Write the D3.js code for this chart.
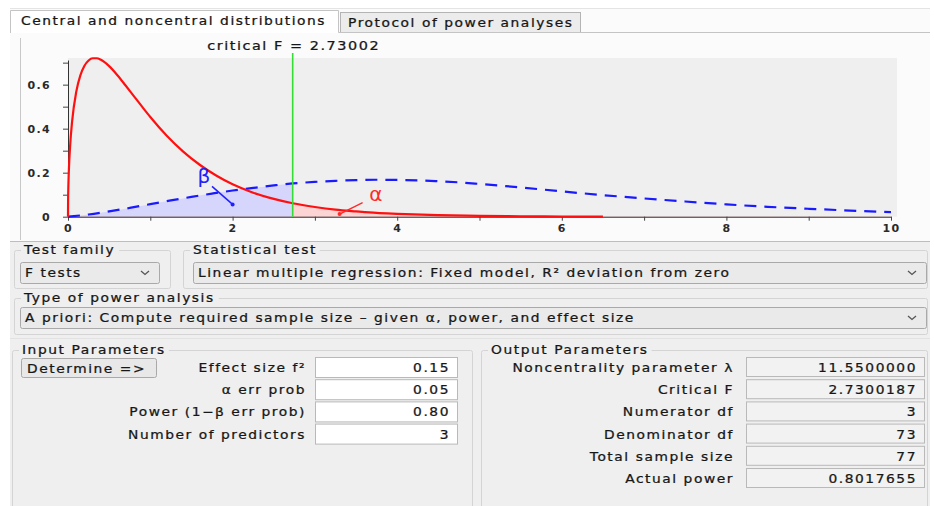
<!DOCTYPE html>
<html><head><meta charset="utf-8">
<script src="https://cdn.jsdelivr.net/npm/d3@7"></script>
<style>
html,body{margin:0;padding:0;background:#fff;overflow:hidden;}
svg text{font-family:"DejaVu Sans",sans-serif;}
</style></head><body>
<svg id="c" width="934" height="506"></svg>
<script>
// ---------- data ----------
const criticalF = 2.73002;
const criticalLabel = "critical F = 2.73002";
const xTickValues = [0,1,2,3,4,5,6,7,8,9,10];
const yTickValues = [0,0.1,0.2,0.3,0.4,0.5,0.6,0.7];
const centralX = [0,0.001,0.005,0.01,0.025,0.05,0.1,0.15,0.2,0.25,0.3,0.35,0.4,0.5,0.6,0.7,0.8,0.9,1.0,1.2,1.4,1.6,1.8,2.0,2.25,2.5,2.73002,3.0,3.25,3.5,3.75,4.0,4.5,5.0,5.5,6.0,6.5];
const centralY = [0,0.066,0.147,0.206,0.318,0.433,0.567,0.642,0.686,0.710,0.720,0.720,0.713,0.684,0.643,0.596,0.548,0.500,0.453,0.368,0.296,0.236,0.187,0.147,0.109,0.081,0.061,0.044,0.032,0.024,0.017,0.013,0.007,0.004,0.002,0.001,0.0006];
const noncentralX = [0,0.25,0.5,0.75,1,1.25,1.5,1.75,2,2.25,2.5,2.73002,3,3.25,3.5,3.75,4,4.25,4.5,4.75,5,5.5,6,6.5,7,7.5,8,8.5,9,9.5,10];
const noncentralY = [0,0.010,0.024,0.040,0.057,0.074,0.090,0.105,0.119,0.131,0.142,0.151,0.158,0.163,0.166,0.168,0.167,0.165,0.161,0.156,0.149,0.133,0.115,0.098,0.083,0.069,0.056,0.045,0.036,0.028,0.021];
const tabs = ["Central and noncentral distributions","Protocol of power analyses"];
const testFamily = ["Test family","F tests"];
const statTest = ["Statistical test","Linear multiple regression: Fixed model, R\u00B2 deviation from zero"];
const analysisType = ["Type of power analysis","A priori: Compute required sample size \u2013 given \u03B1, power, and effect size"];
const inputTitle = "Input Parameters";
const determineLabel = "Determine =>";
const inputLabels = ["Effect size f\u00B2","\u03B1 err prob","Power (1\u2212\u03B2 err prob)","Number of predictors"];
const inputValues = ["0.15","0.05","0.80","3"];
const outputTitle = "Output Parameters";
const outputLabels = ["Noncentrality parameter \u03BB","Critical F","Numerator df","Denominator df","Total sample size","Actual power"];
const outputValues = ["11.5500000","2.7300187","3","73","77","0.8017655"];

// ---------- drawing ----------
const svg = d3.select("#c");
const TXT = "#161616";
const FS = 12, LS = 1.35, SX = 1.15;
function label(g, x, y, t, anchor, opts={}) {
  const sx = opts.sx || SX;
  return g.append("text").attr("x", 0).attr("y", 0).text(t)
    .attr("transform", `translate(${x},${y}) scale(${sx},1)`)
    .attr("text-anchor", anchor || "start")
    .attr("font-size", opts.size || FS)
    .attr("letter-spacing", opts.ls !== undefined ? opts.ls : LS)
    .attr("fill", opts.fill || TXT)
    .attr("stroke", opts.fill || TXT).attr("stroke-width", 0.25);
}
svg.append("rect").attr("width",934).attr("height",506).attr("fill","#ffffff");

// tabs
svg.append("line").attr("x1",10).attr("x2",930).attr("y1",8.5).attr("y2",8.5).attr("stroke","#e4e4e4");
svg.append("rect").attr("x",10).attr("y",9).attr("width",920).attr("height",232).attr("fill","#fbfbfb");
svg.append("rect").attr("x",340.5).attr("y",12.5).attr("width",240).attr("height",20).attr("fill","#ececec").attr("stroke","#b4b4b4");
svg.append("path").attr("d","M10.5,33 V10.5 H338.5 V32.5 H930").attr("fill","none").attr("stroke","#c4c4c4");
svg.append("rect").attr("x",11).attr("y",11).attr("width",327).attr("height",22).attr("fill","#ffffff");
label(svg, 21, 25, tabs[0], "start");
label(svg, 348, 27, tabs[1], "start");
svg.append("line").attr("x1",20.5).attr("x2",20.5).attr("y1",38).attr("y2",240).attr("stroke","#c8c8c8");

// chart
const x = d3.scaleLinear().domain([0,10]).range([68,891]);
const y = d3.scaleLinear().domain([0,0.712]).range([216.7,60]);
svg.append("rect").attr("x",x(0)).attr("y",58).attr("width",897-x(0)).attr("height",y(0)-58).attr("fill","#efefef");

const central = centralX.map((v,i)=>({x:v,y:centralY[i]}));
const noncentral = noncentralX.map((v,i)=>({x:v,y:noncentralY[i]}));
const area = d3.area().x(d=>x(d.x)).y0(y(0)).y1(d=>y(d.y)).curve(d3.curveMonotoneX);
const line = d3.line().x(d=>x(d.x)).y(d=>y(d.y)).curve(d3.curveMonotoneX);
svg.append("path").attr("d", area(noncentral.filter(d=>d.x<=criticalF))).attr("fill","#d6d6fc");
svg.append("path").attr("d", area(central.filter(d=>d.x>=criticalF))).attr("fill","#fcd4d4");

// axes
const axisFont = g => g.selectAll("text").attr("font-size",11).attr("font-weight","bold").attr("letter-spacing",1.3).attr("fill","#2a2a2a").attr("font-family","DejaVu Sans");
const xAxis = svg.append("g").attr("transform",`translate(0,${y(0)})`)
  .call(d3.axisBottom(x).tickValues(xTickValues).tickSize(4).tickSizeOuter(0).tickPadding(4)
    .tickFormat(d => d % 2 === 0 ? d3.format("d")(d) : ""));
xAxis.call(axisFont);
xAxis.select(".domain").attr("stroke","#3a1a1a");
xAxis.selectAll(".tick line").attr("stroke","#444");
const yAxis = svg.append("g").attr("transform",`translate(${x(0)},0)`)
  .call(d3.axisLeft(y).tickValues(yTickValues).tickSize(5).tickSizeOuter(0).tickPadding(12)
    .tickFormat(d => [0,0.2,0.4,0.6].some(v=>Math.abs(v-d)<1e-9) ? (d===0?"0":d3.format(".1f")(d)) : ""));
yAxis.call(axisFont);
yAxis.select(".domain").attr("stroke","#333");
yAxis.selectAll(".tick line").attr("stroke","#444");

svg.append("path").attr("d", line(noncentral)).attr("fill","none").attr("stroke","#1a1aff").attr("stroke-width",2.2).attr("stroke-dasharray","12,8");
svg.append("path").attr("d", line(central)).attr("fill","none").attr("stroke","#ff1010").attr("stroke-width",2.2);

svg.append("line").attr("x1",x(criticalF)).attr("x2",x(criticalF)).attr("y1",53).attr("y2",y(0)).attr("stroke","#33dd33").attr("stroke-width",1.6);
label(svg, x(criticalF)+1, 50, criticalLabel, "middle", {ls:1.3, sx:1.2});

// annotations beta / alpha
const betaTip = {x:2.0, y:0.056};
const alphaTip = {x:3.3, y:0.012};
svg.append("text").attr("x",x(1.65)).attr("y",y(0.155)).text("\u03B2").attr("font-size",20).attr("fill","#2020ff").attr("text-anchor","middle");
svg.append("line").attr("x1",x(1.75)).attr("y1",y(0.138)).attr("x2",x(betaTip.x)).attr("y2",y(betaTip.y)).attr("stroke","#2020ff").attr("stroke-width",1.5);
svg.append("circle").attr("cx",x(betaTip.x)).attr("cy",y(betaTip.y)).attr("r",2).attr("fill","#2020ff");
svg.append("text").attr("x",x(3.74)).attr("y",y(0.073)).text("\u03B1").attr("font-size",20).attr("fill","#ff2a2a").attr("text-anchor","middle");
svg.append("line").attr("x1",x(3.58)).attr("y1",y(0.064)).attr("x2",x(alphaTip.x)).attr("y2",y(alphaTip.y)).attr("stroke","#ff2a2a").attr("stroke-width",1.5);
svg.append("circle").attr("cx",x(alphaTip.x)).attr("cy",y(alphaTip.y)).attr("r",2).attr("fill","#ff2a2a");

// ---------- bottom panel ----------
svg.append("rect").attr("x",10).attr("y",241).attr("width",920).attr("height",265).attr("fill","#efefef");
svg.append("line").attr("x1",10).attr("x2",930).attr("y1",241.5).attr("y2",241.5).attr("stroke","#bdbdbd");
svg.append("line").attr("x1",10).attr("x2",930).attr("y1",338.5).attr("y2",338.5).attr("stroke","#e2e2e2");

function groupBox(x0,y0,w,h,title) {
  svg.append("rect").attr("x",x0+0.5).attr("y",y0+0.5).attr("width",w).attr("height",h).attr("rx",2)
    .attr("fill","none").attr("stroke","#d4d4d4");
  const t = label(svg, x0+10, y0+4, title, "start");
  const bb = t.node().getBBox();
  svg.insert("rect", () => t.node()).attr("x",x0+7).attr("y",y0-2).attr("width",bb.width*SX+6).attr("height",5).attr("fill","#efefef");
}
function dropdown(x0,y0,w,h,text) {
  svg.append("rect").attr("x",x0+0.5).attr("y",y0+0.5).attr("width",w).attr("height",h).attr("rx",2)
    .attr("fill","#eaeaea").attr("stroke","#a9a9a9");
  label(svg, x0+5, y0+15, text, "start");
  const cx = x0+w-14;
  svg.append("path").attr("d",`M${cx-4},${y0+9} L${cx},${y0+12.5} L${cx+4},${y0+9}`).attr("fill","none").attr("stroke","#555").attr("stroke-width",1.3);
}
groupBox(14,250,156,38,testFamily[0]);
dropdown(20,262,139,21,testFamily[1]);
groupBox(183,250,744,38,statTest[0]);
dropdown(193,262,733,21,statTest[1]);
groupBox(14,298,913,36,analysisType[0]);
dropdown(20,307,906,21,analysisType[1]);

groupBox(12,350,460,160,inputTitle);
groupBox(481,350,446,160,outputTitle);

// determine button
svg.append("rect").attr("x",21.5).attr("y",358.5).attr("width",135).attr("height",19).attr("rx",2)
  .attr("fill","#e8e8e8").attr("stroke","#a9a9a9");
label(svg, 27, 373, determineLabel, "start");

const rowY = i => 357 + i*22.2;
inputLabels.forEach((t,i)=>{
  const top = rowY(i);
  svg.append("rect").attr("x",315.5).attr("y",top+0.5).attr("width",142).attr("height",20).attr("fill","#ffffff").attr("stroke","#b9b9b9");
  label(svg, 306, top+15, t, "end");
  label(svg, 450, top+15, inputValues[i], "end");
});
outputLabels.forEach((t,i)=>{
  const top = rowY(i);
  svg.append("rect").attr("x",746.5).attr("y",top+0.5).attr("width",178).attr("height",19).attr("fill","#f2f2f2").attr("stroke","#b9b9b9");
  label(svg, 734, top+15, t, "end");
  label(svg, 917, top+15, outputValues[i], "end");
});
</script>
</body></html>
